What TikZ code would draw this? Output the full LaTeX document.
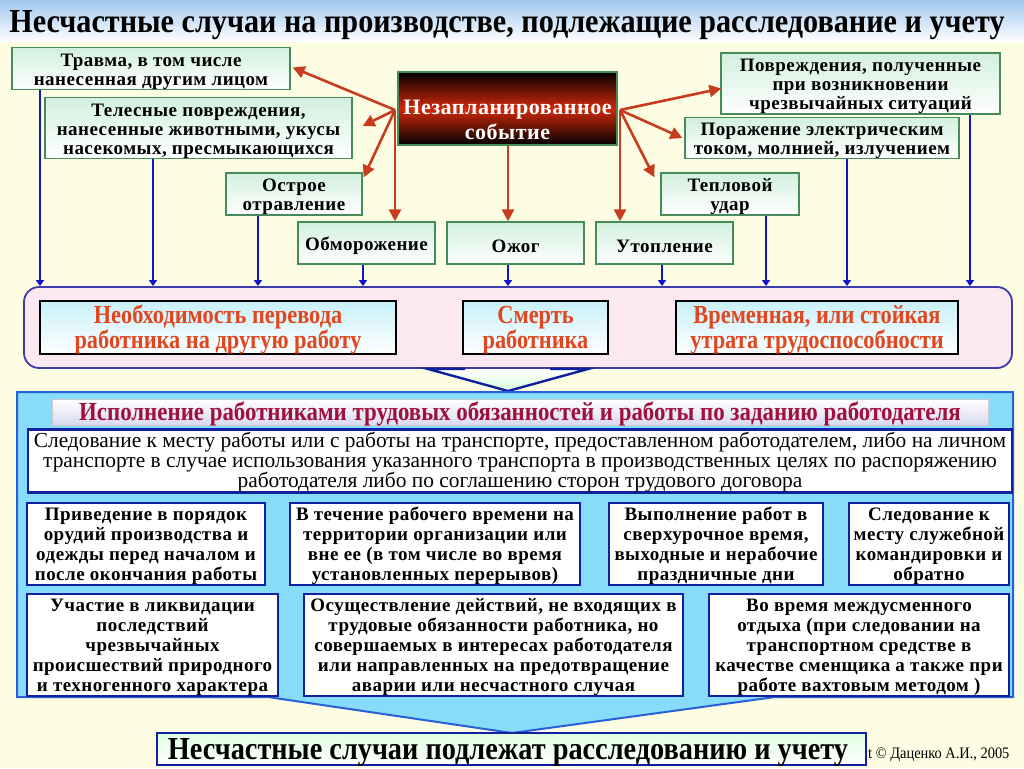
\documentclass[tikz,border=0pt]{standalone}
\usepackage{fontspec}
\setmainfont{Liberation Serif}
\newfontfamily\cond[FakeStretch=0.86]{Liberation Serif}
\newfontfamily\condh[FakeStretch=0.88]{Liberation Serif}
\newfontfamily\condw[FakeStretch=0.9]{Liberation Serif}
\newfontfamily\spaced[LetterSpace=2.5]{Liberation Serif}
\usetikzlibrary{arrows.meta,shapes.geometric}
\definecolor{cream}{RGB}{253,253,228}
\definecolor{titleblue}{RGB}{160,200,240}
\definecolor{gborder}{RGB}{70,140,90}
\definecolor{mint}{RGB}{210,240,222}
\definecolor{redarr}{RGB}{200,60,30}
\definecolor{bluearr}{RGB}{20,20,200}
\definecolor{bandpink}{RGB}{252,232,240}
\definecolor{bandborder}{RGB}{60,60,170}
\definecolor{ptext}{RGB}{226,70,30}
\definecolor{sky}{RGB}{135,220,250}
\definecolor{skyborder}{RGB}{40,96,216}
\definecolor{dblue}{RGB}{16,32,160}
\definecolor{htext}{RGB}{160,16,60}
\definecolor{lav}{RGB}{216,216,240}
\definecolor{evred}{RGB}{210,40,10}
\definecolor{lcyan}{RGB}{200,240,248}
\newcommand\shg{\rule{0pt}{18.5pt}}
\newcommand\she{\rule{0pt}{38pt}}
\newcommand\shp{\rule{0pt}{23pt}}
\newcommand\shw{\rule{0pt}{17.5pt}}
\newcommand\shh{\rule{0pt}{21pt}}
\newcommand\sho{\rule{0pt}{18pt}}
\tikzset{
  gbox/.style={draw=gborder, line width=1.3pt, top color=mint, bottom color=white,
    align=center, inner sep=0pt, font=\spaced\bfseries\fontsize{19}{19}\selectfont},
  evbox/.style={draw=gborder, line width=1.3pt, top color=black, bottom color=black,
    middle color=evred, align=center, inner sep=0pt, text=white,
    font=\spaced\bfseries\fontsize{22}{25}\selectfont},
  pbox/.style={draw=black, line width=2.2pt, top color=lcyan, bottom color=white,
    align=center, inner sep=0pt, text=ptext, font=\cond\bfseries\fontsize{26}{24}\selectfont},
  wbox/.style={draw=dblue, line width=2.5pt, fill=white, align=center, inner sep=0pt,
    font=\spaced\bfseries\fontsize{19}{20}\selectfont},
  rarrow/.style={draw=redarr, line width=2.6pt, -{Triangle[length=12pt,width=12pt]}},
  barrow/.style={draw=bluearr, line width=2.4pt, -{Triangle[length=6pt,width=8pt]}},
}
\begin{document}
\begin{tikzpicture}[x=1pt,y=-1pt]
\useasboundingbox (0,0) rectangle (1024,768);
\fill[cream] (0,0) rectangle (1024,768);
\shade[top color=titleblue, bottom color=white] (0,0) rectangle (1024,42);
\node[anchor=base] (title) at (507,33) {\resizebox{995pt}{22pt}{\bfseries Несчастные случаи на производстве, подлежащие расследование и учету}};

% top boxes
\node[gbox, minimum width=278pt, minimum height=41pt] (b1) at (151,68.5) {\shg Травма, в том числе\\нанесенная другим лицом};
\node[gbox, minimum width=307pt, minimum height=60pt] (b2) at (198.5,128) {\shg Телесные повреждения,\\нанесенные животными, укусы\\насекомых, пресмыкающихся};
\node[gbox, minimum width=136pt, minimum height=42pt] (b3) at (294,194) {\shg Острое\\отравление};
\node[gbox, minimum width=137pt, minimum height=42pt] (b4) at (366.5,243) {\shg Обморожение};
\node[gbox, minimum width=137pt, minimum height=42pt] (b5) at (515.5,243) {\shg Ожог};
\node[gbox, minimum width=137pt, minimum height=42pt] (b6) at (664.5,243) {\shg Утопление};
\node[gbox, minimum width=138pt, minimum height=42pt] (b7) at (730,194) {\shg Тепловой\\удар};
\node[gbox, minimum width=274pt, minimum height=40pt] (b8) at (822,138) {\shg Поражение электрическим\\током, молнией, излучением};
\node[gbox, minimum width=279pt, minimum height=61pt] (b9) at (860.5,83.5) {\shg Повреждения, полученные\\при возникновении\\чрезвычайных ситуаций};

\node[evbox, minimum width=219pt, minimum height=73pt] (ev) at (507.5,108.5) {\she Незапланированное\\событие};

% red arrows
\coordinate (L) at (395,110);
\coordinate (R) at (620,110);
\draw[rarrow] (L) -- ([xshift=2pt,yshift=1pt]b1.east);
\draw[rarrow] (L) -- ([xshift=10pt,yshift=2pt]b2.east);
\draw[rarrow] (L) -- ([xshift=1pt,yshift=-5pt]b3.north east);
\draw[rarrow] (L) -- (L |- b4.north);
\draw[rarrow] (ev.south -| 508,0) -- (b5.north -| 508,0);
\draw[rarrow] (R) -- (R |- b6.north);
\draw[rarrow] (R) -- ([xshift=1pt,yshift=-5pt]b9.west);
\draw[rarrow] (R) -- ([xshift=-2pt]b8.west);
\draw[rarrow] (R) -- ([xshift=-6pt,yshift=-5pt]b7.north west);

% pink band
\node[draw=bandborder, line width=1.8pt, fill=bandpink, rounded corners=15pt,
  minimum width=988pt, minimum height=81pt, inner sep=0pt] (band) at (518,327.5) {};

% blue connectors
\draw[barrow] (b1.south -| 40,0) -- (band.north -| 40,0);
\draw[barrow] (b2.south -| 153,0) -- (band.north -| 153,0);
\draw[barrow] (b3.south -| 258,0) -- (band.north -| 258,0);
\draw[barrow] (b4.south -| 363,0) -- (band.north -| 363,0);
\draw[barrow] (b5.south -| 508,0) -- (band.north -| 508,0);
\draw[barrow] (b6.south -| 662,0) -- (band.north -| 662,0);
\draw[barrow] (b7.south -| 766,0) -- (band.north -| 766,0);
\draw[barrow] (b8.south -| 847,0) -- (band.north -| 847,0);
\draw[barrow] (b9.south -| 970,0) -- (band.north -| 970,0);

\node[pbox, minimum width=356pt, minimum height=51pt] (p1) at (218,327.5) {\shp Необходимость перевода\\работника на другую работу};
\node[pbox, minimum width=145pt, minimum height=51pt] (p2) at (535.5,327.5) {\shp Смерть\\работника};
\node[pbox, minimum width=282pt, minimum height=51pt] (p3) at (817,327.5) {\shp Временная, или стойкая\\утрата трудоспособности};

% funnel arrow
\fill[top color=white, bottom color=green!15!white] (428,369) -- (588,369) -- (508,391) -- cycle;
\draw[draw=dblue, line width=2.4pt, line join=miter] (465,369) -- (428,369) -- (508,391) -- (588,369) -- (550,369);

% blue block
\draw[draw=skyborder, line width=2pt, fill=sky] (17,392) -- (1013,392) -- (1013,697) -- (775,697) -- (512,733) -- (268,697) -- (17,697) -- cycle;
\node[draw=gray!40, line width=0.8pt, top color=white, bottom color=lav, minimum width=936pt, minimum height=25pt, inner sep=0pt,
  text=htext, font=\condh\bfseries\fontsize{26}{24}\selectfont] (hdr) at (520,412.5) {\shh Исполнение работниками трудовых обязанностей и работы по заданию работодателя};
\node[wbox, minimum width=984pt, minimum height=62pt, font=\fontsize{21.4}{20}\selectfont] (w0) at (520,461) {\sho Следование к месту работы или с работы на транспорте, предоставленном работодателем, либо на личном\\транспорте в случае использования указанного транспорта в производственных целях по распоряжению\\работодателя либо по соглашению сторон трудового договора};

\node[wbox, minimum width=238pt, minimum height=82pt] (wa) at (146,544) {\shw Приведение в порядок\\орудий производства и\\одежды перед началом и\\после окончания работы};
\node[wbox, minimum width=290pt, minimum height=82pt] (wb) at (435,544) {\shw В течение рабочего времени на\\территории организации или\\вне ее (в том числе во время\\установленных перерывов)};
\node[wbox, minimum width=214pt, minimum height=82pt] (wc) at (716,544) {\shw Выполнение работ в\\сверхурочное время,\\выходные и нерабочие\\праздничные дни};
\node[wbox, minimum width=160pt, minimum height=82pt] (wd) at (929,544) {\shw Следование к\\месту служебной\\командировки и\\обратно};
\node[wbox, minimum width=251pt, minimum height=102pt] (we) at (152.5,645) {\shw Участие в ликвидации\\последствий\\чрезвычайных\\происшествий природного\\и техногенного характера};
\node[wbox, minimum width=379pt, minimum height=102pt] (wf) at (493.5,645) {\shw Осуществление действий, не входящих в\\трудовые обязанности работника, но\\совершаемых в интересах работодателя\\или направленных на предотвращение\\аварии или несчастного случая};
\node[wbox, minimum width=300pt, minimum height=102pt] (wg) at (859,645) {\shw Во время междусменного\\отдыха (при следовании на\\транспортном средстве в\\качестве сменщика а также при\\работе вахтовым методом )};

% final
\node[draw=dblue, line width=2.5pt, top color=green!12!white, bottom color=white, minimum width=709pt, minimum height=32pt, inner sep=0pt] (fin) at (511.5,749) {};
\node[anchor=base] (fintext) at (508,759) {\resizebox{680pt}{21pt}{\bfseries Несчастные случаи подлежат расследованию и учету}};
\node[anchor=base west, inner sep=0pt, font=\condw\fontsize{16}{18}\selectfont] (copy) at (868,758) {t © Даценко А.И., 2005};
\end{tikzpicture}
\end{document}
